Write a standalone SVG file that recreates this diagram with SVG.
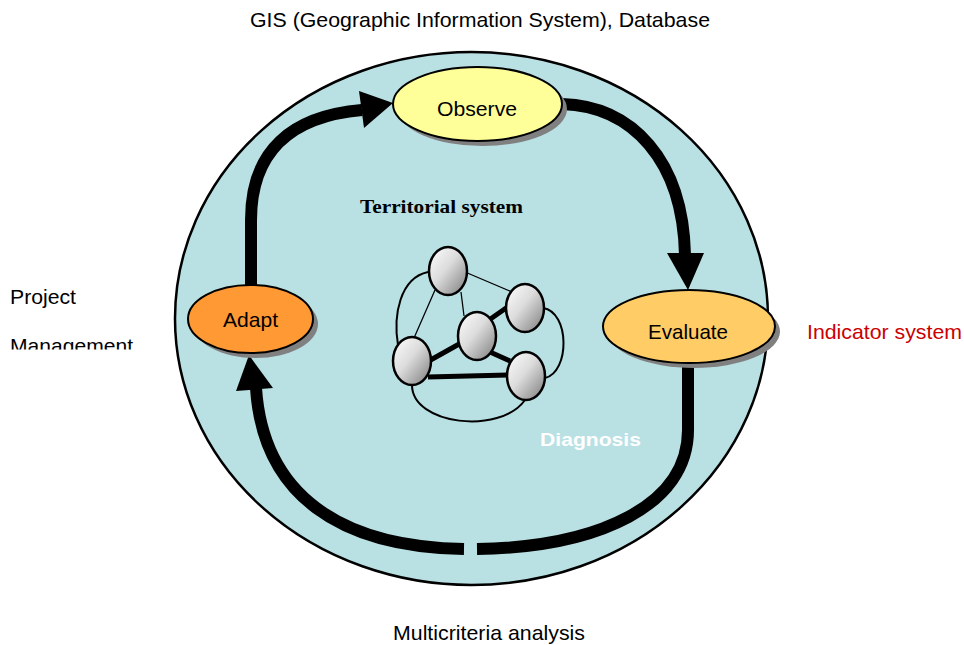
<svg xmlns="http://www.w3.org/2000/svg" width="964" height="645" viewBox="0 0 964 645">
<defs>
<style>
.lbl{font-family:"Liberation Sans",Arial,sans-serif;font-size:21px;fill:#000}
.node{stroke:#000;stroke-width:2}
.shadow{fill:#808080}
.arc{fill:none;stroke:#000;stroke-width:12}
.ball{fill:url(#ballGrad);stroke:#000;stroke-width:2.5}
.thin{fill:none;stroke:#000;stroke-width:1.3}
.mid{fill:none;stroke:#000;stroke-width:2}
.thick{fill:none;stroke:#000;stroke-width:5}
</style>
<linearGradient id="ballGrad" x1="0" y1="0" x2="1" y2="1">
<stop offset="0" stop-color="#ffffff"/>
<stop offset="0.45" stop-color="#dcdcdc"/>
<stop offset="1" stop-color="#7a7a7a"/>
</linearGradient>
<clipPath id="clipMgmt"><rect x="0" y="320" width="200" height="29.5"/></clipPath>
</defs>
<rect width="964" height="645" fill="#ffffff"/>

<g id="territory">
<ellipse cx="471.5" cy="318.5" rx="296.5" ry="266.5" fill="#b9e0e3" stroke="#000" stroke-width="2.5"/>
</g>

<g id="connectors">
<path class="arc" d="M251,287 L251,220 C251,150 292,116 362,110"/>
<polygon points="393,103 359,91 364,128"/>
<path class="arc" d="M562,104 C632,106 683,160 685,255"/>
<polygon points="667,253 704,253 688,290"/>
<path class="arc" d="M688,362 L688,430 C688,505 600,547 477,549"/>
<path class="arc" d="M464,549 C340,547 263,495 256,388"/>
<polygon points="249,355 236,391 273,388"/>
</g>

<g id="network">
<path class="mid" d="M428,272 C400,278 393,315 398,345"/>
<path class="mid" d="M543,308 C570,312 570,372 545,378"/>
<path class="mid" d="M412,385 C412,425 500,435 525,400"/>
<line class="thin" x1="465" y1="272" x2="512" y2="292"/>
<line class="thin" x1="435" y1="290" x2="414" y2="338"/>
<line class="thin" x1="461" y1="292" x2="464" y2="316"/>
<line class="thick" x1="489" y1="320" x2="509" y2="306"/>
<line class="thick" x1="427" y1="362" x2="461" y2="343"/>
<line class="thick" x1="490" y1="352" x2="510" y2="361"/>
<line class="thick" x1="428" y1="377" x2="508" y2="375"/>
<ellipse class="ball" cx="448" cy="271" rx="19" ry="24"/>
<ellipse class="ball" cx="525" cy="308" rx="19" ry="24"/>
<ellipse class="ball" cx="477" cy="336" rx="19" ry="24"/>
<ellipse class="ball" cx="412" cy="361" rx="19" ry="24"/>
<ellipse class="ball" cx="526" cy="376" rx="19" ry="24"/>
</g>

<g id="observe">
<ellipse class="shadow" cx="482.5" cy="109" rx="84.5" ry="37"/>
<ellipse class="node" cx="477.5" cy="104" rx="84.5" ry="37" fill="#ffff99"/>
<text class="lbl" x="477" y="116" text-anchor="middle" textLength="80" lengthAdjust="spacingAndGlyphs">Observe</text>
</g>

<g id="adapt">
<ellipse class="shadow" cx="255.5" cy="324" rx="62.5" ry="34"/>
<ellipse class="node" cx="250.5" cy="319" rx="62.5" ry="34" fill="#ff9933"/>
<text class="lbl" x="250.5" y="327" text-anchor="middle" textLength="55" lengthAdjust="spacingAndGlyphs">Adapt</text>
</g>

<g id="evaluate">
<ellipse class="shadow" cx="694" cy="331.5" rx="86" ry="36.5"/>
<ellipse class="node" cx="689" cy="326.5" rx="86" ry="36.5" fill="#ffcc66"/>
<text class="lbl" x="688" y="339" text-anchor="middle" textLength="80" lengthAdjust="spacingAndGlyphs">Evaluate</text>
</g>

<g id="labels">
<text class="lbl" x="480" y="27" text-anchor="middle" textLength="460" lengthAdjust="spacingAndGlyphs">GIS (Geographic Information System), Database</text>
<text x="441.5" y="213" text-anchor="middle" textLength="163" lengthAdjust="spacingAndGlyphs" style="font-family:'Liberation Serif','Times New Roman',serif;font-size:19px;font-weight:bold">Territorial system</text>
<text x="590.5" y="446" text-anchor="middle" textLength="101" lengthAdjust="spacingAndGlyphs" style="font-family:'Liberation Sans',Arial,sans-serif;font-size:19px;font-weight:bold;fill:#ffffff">Diagnosis</text>
<text class="lbl" x="807" y="339" textLength="155" lengthAdjust="spacingAndGlyphs" style="fill:#cc0000">Indicator system</text>
<text class="lbl" x="10" y="304" textLength="66" lengthAdjust="spacingAndGlyphs">Project</text>
<text class="lbl" x="10" y="353" textLength="123" lengthAdjust="spacingAndGlyphs" clip-path="url(#clipMgmt)">Management</text>
<text class="lbl" x="489" y="640" text-anchor="middle" textLength="192" lengthAdjust="spacingAndGlyphs">Multicriteria analysis</text>
</g>
</svg>
